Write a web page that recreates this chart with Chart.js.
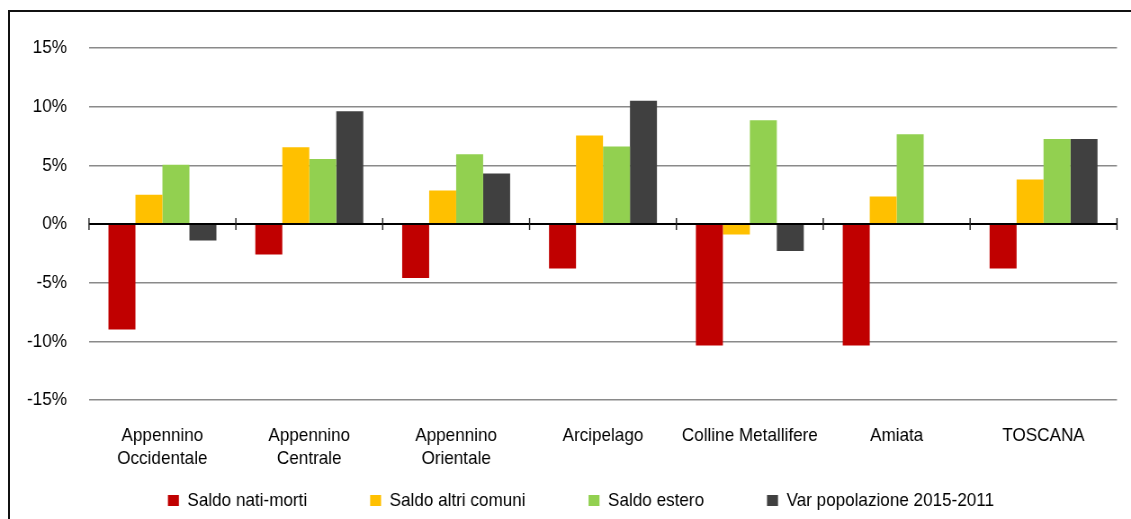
<!DOCTYPE html>
<html>
<head>
<meta charset="utf-8">
<script src="https://cdn.jsdelivr.net/npm/chart.js@4"></script>
<style>
    html, body { margin: 0; padding: 0; background: #fff; }
    #wrap { position: relative; width: 1131px; height: 519px; overflow: hidden; }
    #frame { position: absolute; left: 8px; top: 10px; width: 1200px; height: 600px; border-top: 2px solid #111; border-left: 2px solid #111; }
    /* the original chart is a bit squeezed sideways, so draw wider and shrink */
    #resultChart { position: absolute; left: 0; top: 0; width: 1131px !important; height: 519px !important; }
</style>
</head>
<body>
<div id="wrap">
    <div id="frame"></div>
    <canvas id="resultChart" width="1257" height="519"></canvas>
</div>
<script>
const categories = [
    ['Appennino', 'Occidentale'],
    ['Appennino', 'Centrale'],
    ['Appennino', 'Orientale'],
    'Arcipelago',
    'Colline Metallifere',
    'Amiata',
    'TOSCANA'
];
const saldoNatiMorti = [-9.0, -2.6, -4.6, -3.8, -10.35, -10.35, -3.8];
const saldoAltriComuni = [2.5, 6.55, 2.85, 7.55, -0.9, 2.35, 3.8];
const saldoEstero = [5.05, 5.55, 5.95, 6.6, 8.85, 7.65, 7.25];
const varPopolazione = [-1.4, 9.6, 4.3, 10.5, -2.3, 0, 7.25];
const yTicks = [-15, -10, -5, 0, 5, 10, 15];

const fontFamily = '"Liberation Sans", Arial, sans-serif';
const legendPadding = 70;

// zero line with small tick marks between categories
const zeroTicks = {
    id: 'zeroTicks',
    afterLayout(chart) {
        // legend row sits right under the axis labels
        chart.legend.top = 491 - legendPadding;
        chart.legend.left += 50;
    },
    afterDatasetsDraw(chart) {
        const x = chart.scales.x;
        const y0 = chart.scales.y.getPixelForValue(0);
        const ctx = chart.ctx;
        ctx.save();
        ctx.strokeStyle = '#000';
        ctx.lineWidth = 2;
        ctx.beginPath();
        ctx.moveTo(chart.chartArea.left, y0);
        ctx.lineTo(chart.chartArea.right, y0);
        ctx.stroke();
        ctx.lineWidth = 1.4;
        ctx.strokeStyle = '#222';
        for (let i = 0; i <= categories.length; i++) {
            const px = x.getPixelForValue(i - 0.5);
            ctx.beginPath();
            ctx.moveTo(px, y0 - 6);
            ctx.lineTo(px, y0 + 6);
            ctx.stroke();
        }
        ctx.restore();
    }
};

const chartData = {
    labels: categories,
    datasets: [
        { label: 'Saldo nati-morti', data: saldoNatiMorti, backgroundColor: '#C00000' },
        { label: 'Saldo altri comuni', data: saldoAltriComuni, backgroundColor: '#FFC000' },
        { label: 'Saldo estero', data: saldoEstero, backgroundColor: '#92D050' },
        { label: 'Var popolazione 2015-2011', data: varPopolazione, backgroundColor: '#404040' }
    ]
};

const chartConfig = {
    type: 'bar',
    data: chartData,
    plugins: [zeroTicks],
    options: {
        responsive: false,
        animation: false,
        devicePixelRatio: 1,
        categoryPercentage: 0.735,
        barPercentage: 1,
        layout: { padding: { top: 48, right: 15.6, bottom: 0, left: 0 } },
        plugins: {
            tooltip: { enabled: false },
            legend: {
                position: 'bottom',
                maxHeight: 46,
                labels: {
                    boxWidth: 12.2,
                    boxHeight: 11,
                    padding: legendPadding,
                    color: '#000',
                    font: { family: fontFamily, size: 19 }
                }
            }
        },
        scales: {
            x: {
                grid: { display: false, drawTicks: false },
                border: { display: false },
                afterFit: scale => { scale.height = 73; },
                ticks: {
                    padding: 24,
                    color: '#000',
                    maxRotation: 0,
                    autoSkip: false,
                    font: { family: fontFamily, size: 19, lineHeight: 1.21 }
                }
            },
            y: {
                min: -15,
                max: 15,
                afterFit: scale => { scale.width = 98.9; },
                afterBuildTicks: scale => { scale.ticks = yTicks.map(v => ({ value: v })); },
                grid: { color: '#8a8a8a', lineWidth: 1.5, drawTicks: false },
                border: { display: false },
                ticks: {
                    padding: 24.5,
                    color: '#000',
                    callback: v => v + '%',
                    font: { family: fontFamily, size: 19 }
                }
            }
        }
    }
};

const ctx = document.getElementById('resultChart').getContext('2d');
new Chart(ctx, chartConfig);
</script>
</body>
</html>
